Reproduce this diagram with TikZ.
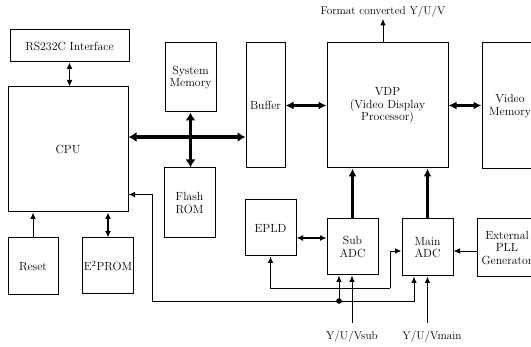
\documentclass[tikz,border=0pt]{standalone}
\usepackage{xcolor}
\usepackage{tikz}
\usetikzlibrary{arrows.meta, positioning, calc}
\tikzset{
  blk/.style={draw, line width=1pt, align=center, inner sep=1pt,
              font=\fontsize{11.8}{12.8}\selectfont},
  lbl/.style={font=\fontsize{11.3}{12}\selectfont, inner sep=1pt},
  sig/.style={-{Latex[length=6.5pt, width=5.5pt]}, line width=0.9pt},
  dsig/.style={{Latex[length=6.5pt, width=6pt]}-{Latex[length=6.5pt, width=6pt]}, line width=1.3pt},
  bus/.style={{Latex[length=8pt, width=10pt]}-{Latex[length=8pt, width=10pt]}, line width=3.6pt},
  wbus/.style={{Latex[length=8pt, width=8pt]}-{Latex[length=8pt, width=8pt]}, line width=2.6pt},
  vbus/.style={-{Latex[length=8pt, width=8pt]}, line width=2.8pt},
}

\begin{document}
\begin{tikzpicture}[x=1pt, y=-1pt]
  \useasboundingbox (0,0) rectangle (531,347);
  \clip (0,0) rectangle (531,347);
  % blocks
  \node[blk, minimum width=119, minimum height=32] (rs) at (69.5,46) {RS232C Interface};
  \node[blk, minimum width=120, minimum height=125] (cpu) at (68,149.5) {CPU};
  \node[blk, minimum width=50, minimum height=57] (reset) at (33,266.5) {Reset};
  \node[blk, minimum width=50, minimum height=56] (eprom) at (108,266) {E\textsuperscript{2}PROM};
  \node[blk, minimum width=51, minimum height=69] (sysmem) at (190.5,77.5) {System\\Memory};
  \node[blk, minimum width=51, minimum height=70] (flash) at (189.5,203) {Flash\\ROM};
  \node[blk, minimum width=39, minimum height=125] (buffer) at (265.5,105.5) {Buffer};
  \node[blk, minimum width=121, minimum height=125] (vdp) at (387.5,105.5) {VDP\\(Video Display\\Processor)};
  \node[blk, minimum width=56, minimum height=126] (vmem) at (510,106) {Video\\Memory};
  \node[blk, minimum width=51, minimum height=56] (epld) at (270.5,228) {EPLD};
  \node[blk, minimum width=51, minimum height=56] (subadc) at (352.5,247) {Sub\\ADC};
  \node[blk, minimum width=51, minimum height=57] (mainadc) at (427.5,247.5) {Main\\ADC};
  \node[blk, minimum width=60, minimum height=58] (pll) at (507,248) {External\\PLL\\Generator};
  % texts
  \node[lbl] (fmt) at (383,12) {Format converted Y/U/V};
  \node[lbl] (ysub) at (352,337) {Y/U/Vsub};
  \node[lbl] (ymain) at (432,337) {Y/U/Vmain};
  % routing points
  \coordinate (busx) at (190,137);
  \coordinate (clk) at (339,301);
  \coordinate (bend) at (152,301);
  \coordinate (ctl) at (390,288);
  \coordinate (mw) at ([yshift=-3.5pt]mainadc.west);
  \coordinate (sw) at ([yshift=9pt]subadc.west);
  % CPU side
  \draw[dsig] (rs.south) -- (rs.south|-cpu.north);
  \draw[sig] (reset.north) -- (reset.north|-cpu.south);
  \draw[dsig] (eprom.north) -- (eprom.north|-cpu.south);
  \draw[bus] (cpu.east|-busx) -- (buffer.west|-busx);
  \draw[bus] (sysmem.south) -- (sysmem.south|-flash.north);
  % VDP side
  \draw[wbus] (buffer.east) -- (vdp.west);
  \draw[wbus] (vdp.east) -- (vdp.east-|vmem.west);
  \draw[sig] (fmt.south|-vdp.north) -- (fmt.south);
  \draw[vbus] (subadc.north) -- (subadc.north|-vdp.south);
  \draw[vbus] (mainadc.north) -- (mainadc.north|-vdp.south);
  % ADC side
  \draw[dsig] (sw-|epld.east) -- (sw);
  \draw[sig] (mw-|pll.west) -- (mw-|mainadc.east);
  \draw[sig] (ctl) |- (mw);
  \draw[sig] (ctl) -| (epld.south);
  \draw[sig] (clk) -- (bend) |- ([yshift=18pt]cpu.south east);
  \draw[sig] (clk) -- (clk|-subadc.south);
  \draw[sig] (clk) -| ([xshift=-13.5pt]mainadc.south);
  \fill (clk) circle (2.8pt);
  \draw[sig] ($(ysub.north)+(0,-7)$) -- (ysub.north|-subadc.south);
  \draw[sig] ($(ymain.north-|mainadc.south)+(0,-7)$) -- (mainadc.south);
\end{tikzpicture}
\end{document}
